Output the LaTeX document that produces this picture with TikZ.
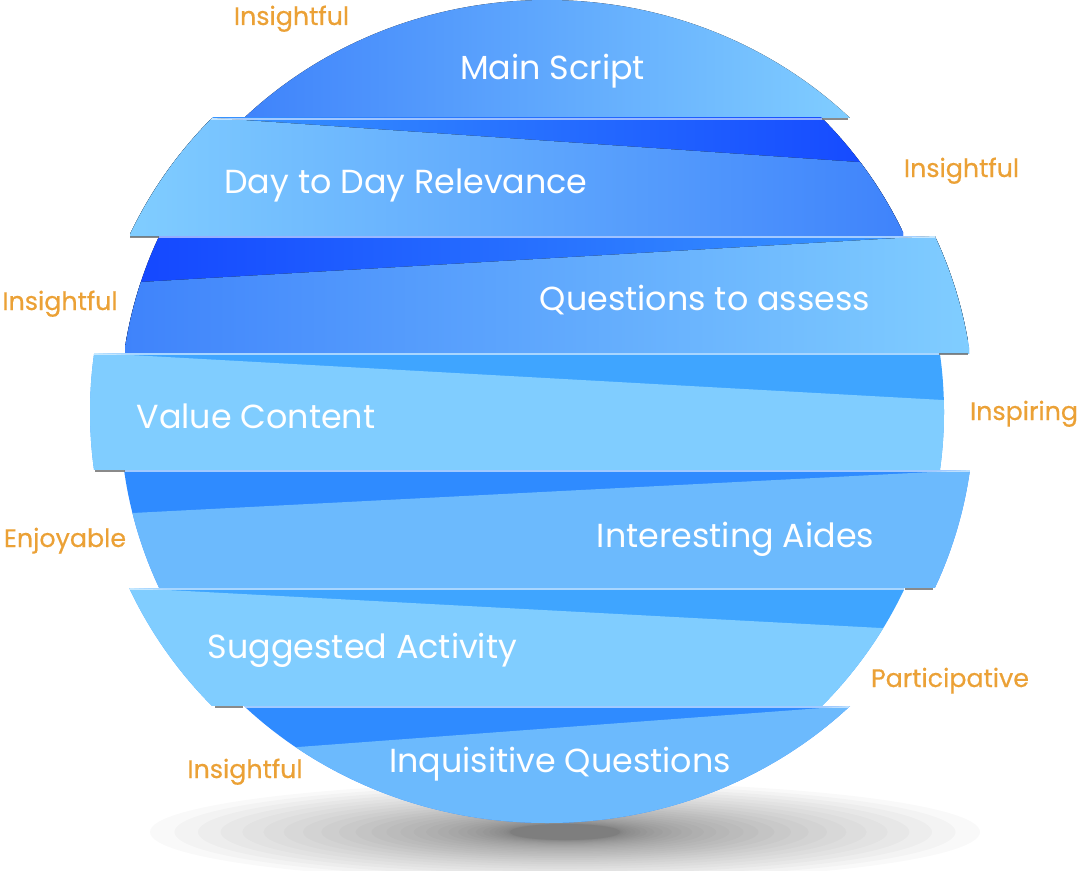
\documentclass[tikz,border=0pt]{standalone}
\usepackage{fontspec}
\setmainfont{Poppins}
\newfontfamily\tagfont[FakeBold=0.5]{Poppins}
\definecolor{tagorange}{HTML}{EBA136}
\definecolor{deepblue}{HTML}{1446FF}
\definecolor{midblue}{HTML}{3B9DFF}
\definecolor{darkface}{HTML}{3F83FB}
\definecolor{paleface}{HTML}{80CDFF}
\definecolor{softface}{HTML}{6CBAFD}
\definecolor{skyback}{HTML}{3FA5FF}
\definecolor{royalback}{HTML}{2F8BFF}
\definecolor{rimgray}{HTML}{6D6D6D}
\begin{document}
\begin{tikzpicture}[x=0.75pt,y=-0.75pt,
  bandtext/.style={text=white, font=\fontsize{25}{30}\selectfont, anchor=base, inner sep=0pt},
  tag/.style={text=tagorange, font=\tagfont\fontsize{19}{23}\selectfont, anchor=base, inner sep=0pt},
  rim/.style={white, opacity=0.55, line width=1.4pt},
  overhang/.style={rimgray, opacity=0.8, line width=0.9pt},
  haze/.style={black, opacity=0.022}]
\useasboundingbox (0,0) rectangle (1080,870);

% soft shadow on the ground, built from nested translucent ellipses
\foreach \k in {0,...,29}{
  \pgfmathsetmacro\shrink{(1-\k/29)*(1-\k/29)}
  \fill[haze] (565,832) ellipse ({55+360*\shrink} and {8+42*\shrink});
}

% ---- band 1: Main Script (top cap)
\begin{scope}
  \clip (547,399.5) ellipse (427 and 399.5);
  \clip (0,-10) rectangle (1080,118);
  \fill[left color=darkface, right color=paleface] (243,-10) rectangle (850,118);
\end{scope}

% ---- band 2: Day to Day Relevance
\begin{scope}
  \clip (517,412) ellipse (427 and 420);
  \clip (0,118) rectangle (1080,236);
  \fill[left color=midblue, right color=deepblue] (130,118) rectangle (903,236);
  \begin{scope}
    \clip (0,103.4) -- (1080,177.2) -- (1080,237) -- (0,237) -- cycle;
    \fill[left color=paleface, right color=darkface] (130,118) rectangle (903,236);
  \end{scope}
  \draw[rim] (130,119) -- (903,119);
\end{scope}

% ---- band 3: Questions to assess
\begin{scope}
  \clip (547,412) ellipse (427 and 420);
  \clip (0,236) rectangle (1080,353);
  \fill[left color=deepblue, right color=midblue] (125,236) rectangle (969,353);
  \begin{scope}
    \clip (0,290.2) -- (1080,227.5) -- (1080,354) -- (0,354) -- cycle;
    \fill[left color=darkface, right color=paleface] (125,236) rectangle (969,353);
  \end{scope}
  \draw[rim] (125,237) -- (969,237);
\end{scope}

% ---- band 4: Value Content
\begin{scope}
  \clip (517,412) ellipse (427 and 420);
  \clip (0,353) rectangle (1080,470);
  \fill[skyback] (88,353) rectangle (946,470);
  \begin{scope}
    \clip (0,347.8) -- (1080,407.6) -- (1080,471) -- (0,471) -- cycle;
    \fill[paleface] (88,353) rectangle (946,470);
  \end{scope}
  \draw[rim] (88,354) -- (946,354);
\end{scope}

% ---- band 5: Interesting Aides
\begin{scope}
  \clip (547,412) ellipse (427 and 420);
  \clip (0,470) rectangle (1080,588);
  \fill[royalback] (118,470) rectangle (976,588);
  \begin{scope}
    \clip (0,519.8) -- (1080,464.4) -- (1080,589) -- (0,589) -- cycle;
    \fill[softface] (118,470) rectangle (976,588);
  \end{scope}
  \draw[rim] (118,471) -- (976,471);
\end{scope}

% ---- band 6: Suggested Activity
\begin{scope}
  \clip (517,412) ellipse (427 and 420);
  \clip (0,588) rectangle (1080,706);
  \fill[skyback] (128,588) rectangle (905,706);
  \begin{scope}
    \clip (0,581.1) -- (1080,638.6) -- (1080,707) -- (0,707) -- cycle;
    \fill[paleface] (128,588) rectangle (905,706);
  \end{scope}
  \draw[rim] (128,589) -- (905,589);
\end{scope}

% ---- band 7: Inquisitive Questions (bottom cap)
\begin{scope}
  \clip (547,427) ellipse (427 and 396);
  \clip (0,706) rectangle (1080,840);
  \fill[royalback] (240,706) rectangle (852,840);
  \begin{scope}
    \clip (0,769.2) -- (1080,688.8) -- (1080,840) -- (0,840) -- cycle;
    \fill[softface] (240,706) rectangle (852,840);
  \end{scope}
  \draw[rim] (240,707) -- (852,707);
\end{scope}

% thin shadows under the overhanging corners
\draw[overhang] (822,119) -- (848,119);
\draw[overhang] (130,237) -- (159,237);
\draw[overhang] (939,354) -- (968,354);
\draw[overhang] (95,471) -- (125,471);
\draw[overhang] (905,589) -- (933,589);
\draw[overhang] (215,707) -- (243,707);

% band titles
\node[bandtext] (mainscript) at (552.5,80) {Main Script};
\node[bandtext] (daytoday) at (406,193) {Day to Day Relevance};
\node[bandtext] (questions) at (705,310) {Questions to assess};
\node[bandtext] (valuecontent) at (256,428) {Value Content};
\node[bandtext] (aides) at (735.5,547) {Interesting Aides};
\node[bandtext] (activity) at (362.5,658) {Suggested Activity};
\node[bandtext] (inquisitive) at (560,772) {Inquisitive Questions};

% qualities around the sphere
\node[tag] (tagtop) at (291.5,25) {Insightful};
\node[tag] (tagright) at (961.5,177) {Insightful};
\node[tag] (tagleft) at (60,310) {Insightful};
\node[tag] (taginspiring) at (1024,420) {Inspiring};
\node[tag] (tagenjoy) at (65,547) {Enjoyable};
\node[tag] (tagpart) at (950,687) {Participative};
\node[tag] (tagbottom) at (245,778) {Insightful};
\end{tikzpicture}
\end{document}
